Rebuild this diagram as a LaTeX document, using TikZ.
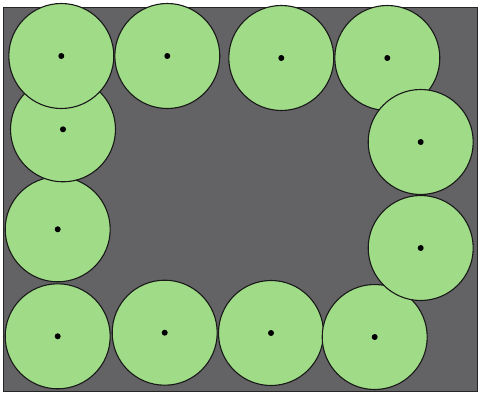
\documentclass[tikz,border=0pt]{standalone}
\usetikzlibrary{positioning}

\definecolor{boxgray}{RGB}{99,98,100}
\definecolor{discgreen}{RGB}{160,220,136}

\begin{document}
\begin{tikzpicture}[x=1pt,y=-1pt,
  disc/.style={circle, draw=black!90, line width=1.1pt, fill=discgreen,
    minimum size=105pt, inner sep=0pt},
  centre/.style={circle, fill=black, minimum size=6pt, inner sep=0pt}]
\useasboundingbox (0,0) rectangle (480,394);
% the box
\fill [boxgray] (3,7) rectangle (477,391);
\draw [black!85, line width=0.8pt] (3,7) rectangle (477,391);
% discs, back to front
\foreach \name/\x/\y in {l3/57.7/229.3, l2/63/129.3, t1/61.3/56, t2/167.3/56,
    t3/281.3/58, t4/387.3/58, r1/420.7/142, b1/57.7/336.3, b2/164.7/332.7,
    b3/271/333, b4/374.7/337, r2/420.7/248} {
  \node [disc] (\name) at (\x,\y) {};
  \node [centre] (\name-c) at (\name.center) {};
}
\end{tikzpicture}
\end{document}
